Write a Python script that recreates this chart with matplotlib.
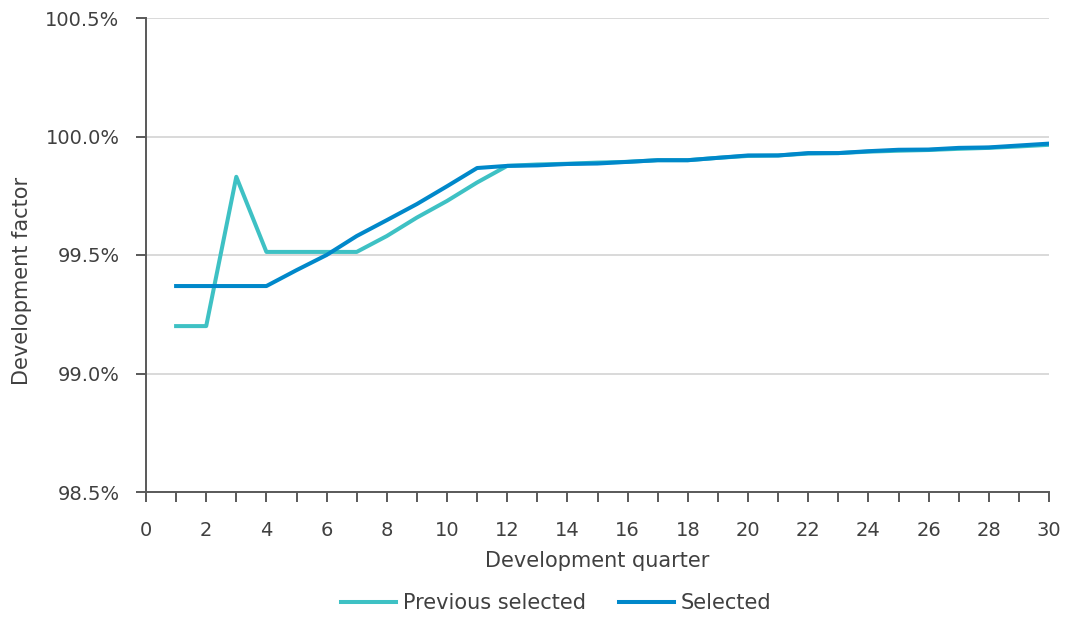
import numpy as np
import matplotlib
matplotlib.use('Agg')
import matplotlib.pyplot as plt
from matplotlib.ticker import MultipleLocator, FuncFormatter

plt.rcParams['font.family'] = ['DejaVu Sans']

# ---- data (development factor, %) ----
quarters = list(range(1, 31))
previous_selected = [99.20, 99.20, 99.83, 99.513, 99.513, 99.513, 99.513, 99.58, 99.658, 99.728,
                     99.806, 99.876, 99.882, 99.885, 99.89, 99.893, 99.90, 99.90, 99.91, 99.918,
                     99.92, 99.928, 99.93, 99.936, 99.94, 99.943, 99.948, 99.952, 99.958, 99.965]
selected = [99.369, 99.369, 99.369, 99.369, 99.436, 99.50, 99.58, 99.647, 99.715, 99.79,
            99.867, 99.876, 99.878, 99.884, 99.886, 99.893, 99.90, 99.90, 99.91, 99.92,
            99.92, 99.93, 99.93, 99.938, 99.944, 99.945, 99.952, 99.954, 99.962, 99.97]

TXT = '#404040'
AX = '#595959'
fig = plt.figure(figsize=(10.68, 6.17), dpi=100)
ax = fig.add_axes([146/1068, 1-492/617, (1049-146)/1068, (492-18)/617])

ax.plot(quarters, previous_selected, color='#3EC1C4', lw=2.9, label='Previous selected', zorder=3)
ax.plot(quarters, selected, color='#0088CA', lw=2.9, label='Selected', zorder=4)

ax.set_xlim(0, 30)
ax.set_ylim(98.5, 100.5)
ax.xaxis.set_major_locator(MultipleLocator(2))
ax.xaxis.set_minor_locator(MultipleLocator(1))
ax.yaxis.set_major_locator(MultipleLocator(0.5))
ax.yaxis.set_major_formatter(FuncFormatter(lambda v, p: f'{v:.1f}%'))

ax.grid(axis='y', color='#d9d9d9', lw=1.4)
ax.set_axisbelow(True)
for s in ['top', 'right']:
    ax.spines[s].set_visible(False)
for s in ['left', 'bottom']:
    ax.spines[s].set_color(AX)
    ax.spines[s].set_linewidth(1.4)
ax.tick_params(axis='both', which='both', color=AX, width=1.4, length=7,
               labelsize=14, labelcolor=TXT)
ax.tick_params(axis='x', which='both', direction='out', pad=14)
ax.tick_params(axis='y', pad=12)

ax.set_xlabel('Development quarter', fontsize=15, color=TXT)
ax.set_ylabel('Development factor', fontsize=15, color=TXT)
ax.xaxis.set_label_coords(0.5, (492-561)/474)
ax.xaxis.label.set_va('center')
ax.yaxis.set_label_coords((22-146)/903, (492-281)/474)
ax.yaxis.label.set_va('center')

ax.legend(loc='center', bbox_to_anchor=((556-146)/903, (492-603)/474), ncol=2, frameon=False,
          fontsize=15, labelcolor=TXT, handlelength=2.65, columnspacing=1.6,
          handletextpad=0.3)

fig.savefig('out.png', dpi=100)
